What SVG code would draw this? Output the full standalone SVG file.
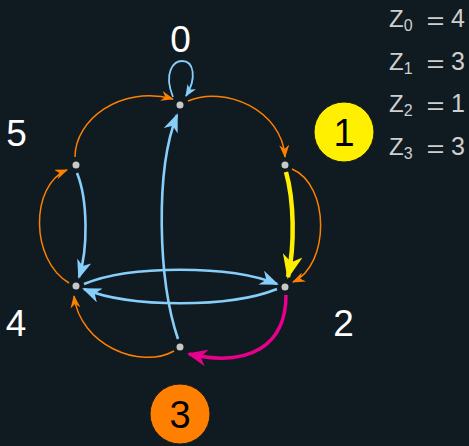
<svg xmlns="http://www.w3.org/2000/svg" width="469" height="446" viewBox="0 0 469 446">
<style>
.e{fill:none;stroke-linecap:butt}
.blue{stroke:#87cefa;stroke-width:2.6}
.orange{stroke:#ff8000;stroke-width:1.5}
.yellow{stroke:#fff000;stroke-width:4.5}
.mag{stroke:#e8008c;stroke-width:3.5}
.dot{fill:#c8c8c8}
.lbl{font-family:"Liberation Sans",Arial,sans-serif;font-size:37px;fill:#ffffff;text-anchor:middle}
.clbl{font-family:"Liberation Sans",Arial,sans-serif;font-size:38px;fill:#000000;text-anchor:middle}
.z{font-family:"Liberation Sans",Arial,sans-serif;fill:#cfcfcf}
</style>
<defs>
<marker id="aBlue" markerUnits="userSpaceOnUse" markerWidth="20" markerHeight="15" refX="17" refY="7.5" orient="auto"><path d="M0,0 L19,7.5 L0,15 L5.5,7.5 z" fill="#87cefa"/></marker>
<marker id="aBlueS" markerUnits="userSpaceOnUse" markerWidth="13" markerHeight="10" refX="11" refY="5" orient="auto"><path d="M0,0 L12,5 L0,10 L3.5,5 z" fill="#87cefa"/></marker>
<marker id="aOr" markerUnits="userSpaceOnUse" markerWidth="14" markerHeight="10" refX="12" refY="5" orient="auto"><path d="M0,0 L13,5 L0,10 L4,5 z" fill="#ff8000"/></marker>
<marker id="aYel" markerUnits="userSpaceOnUse" markerWidth="25" markerHeight="20" refX="22" refY="10" orient="auto"><path d="M0,0 L24,10 L0,20 L7,10 z" fill="#fff000"/></marker>
<marker id="aMag" markerUnits="userSpaceOnUse" markerWidth="21" markerHeight="17" refX="18" refY="8.5" orient="auto"><path d="M0,0 L20,8.5 L0,17 L6,8.5 z" fill="#e8008c"/></marker>
</defs>
<rect width="469" height="446" fill="#0f1a21"/>
<g id="connectors">
<path class="e blue" style="stroke-width:1.8" d="M173,97 C163,72 174,61 182,61 C194,61 197,78 186,96" marker-end="url(#aBlueS)"/>
<path class="e orange" d="M75,157 C75,120 120,85 173,99" marker-end="url(#aOr)"/>
<path class="e orange" d="M188,101 C225,85 282,110 285,157" marker-end="url(#aOr)"/>
<path class="e orange" d="M292,169 C330,185 330,265 293,282" marker-end="url(#aOr)"/>
<path class="e orange" d="M69,283 C30,260 30,185 67,170" marker-end="url(#aOr)"/>
<path class="e orange" d="M174,351 C140,370 80,345 74,296" marker-end="url(#aOr)"/>
<path class="e blue" d="M77,173 C88,200 88,250 79,277" marker-end="url(#aBlue)"/>
<path class="e blue" d="M178,339 C158,280 155,170 177,115" marker-end="url(#aBlue)"/>
<path class="e blue" d="M84,284 C130,265 230,265 277,284" marker-end="url(#aBlue)"/>
<path class="e blue" d="M277,289 C230,308 130,308 84,289" marker-end="url(#aBlue)"/>
<path class="e yellow" d="M286,172 C294,200 295,245 288,277" marker-end="url(#aYel)"/>
<path class="e mag" d="M286,295 C286,345 250,368 189,354" marker-end="url(#aMag)"/>
</g>
<g id="node0"><circle class="dot" cx="180" cy="105" r="3.5"/><text class="lbl" x="180.5" y="52">0</text></g>
<g id="node1"><circle class="dot" cx="285" cy="165" r="3.5"/></g>
<g id="node2"><circle class="dot" cx="285" cy="287" r="3.5"/><text class="lbl" x="343.5" y="336">2</text></g>
<g id="node3"><circle class="dot" cx="180" cy="347" r="3.5"/></g>
<g id="node4"><circle class="dot" cx="76" cy="286" r="3.5"/><text class="lbl" x="16" y="336">4</text></g>
<g id="node5"><circle class="dot" cx="76" cy="165" r="3.5"/><text class="lbl" x="16.5" y="145.5">5</text></g>
<g id="badge1"><circle cx="344" cy="132" r="30" fill="#fff000" stroke="#1a1a1a" stroke-width="1"/><text class="clbl" x="344" y="146">1</text></g>
<g id="badge3"><circle cx="180" cy="414" r="30" fill="#ff8000" stroke="#1a1a1a" stroke-width="1"/><text class="clbl" x="180" y="427.5">3</text></g>
<g id="legend">
<text class="z" x="389" y="27" font-size="24">Z<tspan font-size="16" dy="4">0</tspan></text>
<text class="z" x="426.5" y="29" font-size="24" textLength="18" lengthAdjust="spacingAndGlyphs">=</text>
<text class="z" x="451" y="27" font-size="25">4</text>
<text class="z" x="389" y="70" font-size="24">Z<tspan font-size="16" dy="4">1</tspan></text>
<text class="z" x="426.5" y="72" font-size="24" textLength="18" lengthAdjust="spacingAndGlyphs">=</text>
<text class="z" x="451" y="70" font-size="25">3</text>
<text class="z" x="389" y="111.5" font-size="24">Z<tspan font-size="16" dy="4">2</tspan></text>
<text class="z" x="426.5" y="113.5" font-size="24" textLength="18" lengthAdjust="spacingAndGlyphs">=</text>
<text class="z" x="451" y="111.5" font-size="25">1</text>
<text class="z" x="389" y="155" font-size="24">Z<tspan font-size="16" dy="4">3</tspan></text>
<text class="z" x="426.5" y="157" font-size="24" textLength="18" lengthAdjust="spacingAndGlyphs">=</text>
<text class="z" x="451" y="155" font-size="25">3</text>
</g>
</svg>
